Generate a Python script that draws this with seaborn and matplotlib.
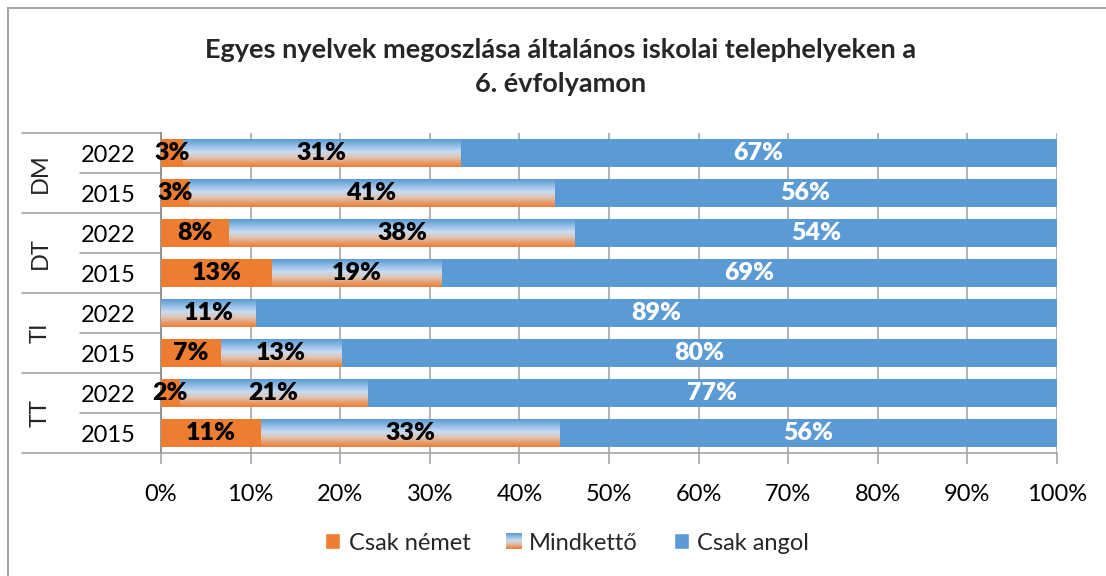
import numpy as np
import pandas as pd
import seaborn as sns
import matplotlib.pyplot as plt
from matplotlib.colors import LinearSegmentedColormap
from matplotlib.patches import Patch, Rectangle
import matplotlib.transforms as mtransforms

# data (percent)
groups = ['DM', 'DM', 'DT', 'DT', 'TI', 'TI', 'TT', 'TT']
years = ['2022', '2015', '2022', '2015', '2022', '2015', '2022', '2015']
csak_nemet = [2.5, 3.1, 7.6, 12.4, 0.0, 6.7, 2.1, 11.2]
mindketto = [30.9, 40.8, 38.6, 18.9, 10.6, 13.4, 20.9, 33.3]
csak_angol = [66.6, 56.1, 53.8, 68.7, 89.4, 79.9, 77.0, 55.5]
nemet_lbl = ['3%', '3%', '8%', '13%', '', '7%', '2%', '11%']
mind_lbl = ['31%', '41%', '38%', '19%', '11%', '13%', '21%', '33%']
angol_lbl = ['67%', '56%', '54%', '69%', '89%', '80%', '77%', '56%']

ORANGE = '#ed7d31'
BLUE = '#5b9bd5'
FS = 17

df = pd.DataFrame({'row': [g + ' ' + y for g, y in zip(groups, years)],
                   'nemet': csak_nemet, 'mind': mindketto, 'angol': csak_angol})
df['c1'] = df['nemet']
df['c2'] = df['nemet'] + df['mind']
df['c3'] = df['c2'] + df['angol']

sns.set_theme(style='white')
plt.rcParams['font.family'] = ['Lato', 'DejaVu Sans']

fig = plt.figure(figsize=(11.06, 5.76), dpi=100)
ax = fig.add_axes([161 / 1106, 1 - 453 / 576, 896 / 1106, 320 / 576])

grad_cmap = LinearSegmentedColormap.from_list(
    'mk', [(0, '#5b9bd5'), (0.45, '#c6dcf3'), (0.62, '#dcc9c0'), (1, '#ed7d31')])
grad = np.linspace(0, 1, 64).reshape(-1, 1)

sns.barplot(data=df, x='c3', y='row', color=BLUE, width=0.68, saturation=1,
            orient='h', ax=ax, zorder=2, linewidth=0)
sns.barplot(data=df, x='c2', y='row', color=BLUE, width=0.68, saturation=1,
            orient='h', ax=ax, zorder=2, linewidth=0)
mind_patches = ax.patches[8:16]
sns.barplot(data=df, x='c1', y='row', color=ORANGE, width=0.68, saturation=1,
            orient='h', ax=ax, zorder=4, linewidth=0)

for p in mind_patches:
    x0, y0, w, h = p.get_x(), p.get_y(), p.get_width(), p.get_height()
    ax.imshow(grad, extent=[x0, x0 + w, y0 + h, y0], aspect='auto',
              cmap=grad_cmap, zorder=3, interpolation='bilinear')

ax.set_xlim(0, 100)
ax.set_ylim(7.5, -0.5)

# segment labels
for i in range(len(df)):
    n, m, a = csak_nemet[i], mindketto[i], csak_angol[i]
    if nemet_lbl[i]:
        ax.text(n / 2, i, nemet_lbl[i], ha='center', va='center', fontsize=18,
                fontweight='heavy', color='black', zorder=6)
    ax.text(n + m / 2, i, mind_lbl[i], ha='center', va='center', fontsize=18,
            fontweight='heavy', color='black', zorder=6)
    ax.text(n + m + a / 2, i, angol_lbl[i], ha='center', va='center', fontsize=18,
            fontweight='heavy', color='white', zorder=6)

# x axis
ax.set_xticks(np.arange(0, 101, 10))
ax.set_xticklabels([f'{v}%' for v in range(0, 101, 10)], fontsize=FS)
ax.xaxis.grid(True, color='#a6a6a6', linewidth=1.2, zorder=0)
ax.set_axisbelow(True)
ax.tick_params(axis='x', bottom=True, length=8, width=1.2, color='#a6a6a6',
               pad=14, labelcolor='black')
for s in ['top', 'right']:
    ax.spines[s].set_visible(False)
ax.spines['left'].set_color('#868686')
ax.spines['bottom'].set_color('#a6a6a6')
ax.spines['left'].set_linewidth(1.2)
ax.spines['bottom'].set_linewidth(1.2)
ax.set_xlabel('')
ax.set_ylabel('')

# y axis: years as tick labels, groups as text
ax.set_yticks(range(len(df)))
ax.set_yticklabels(years, fontsize=FS)
ax.tick_params(axis='y', left=False, pad=12, labelcolor='black')

trans = mtransforms.blended_transform_factory(ax.transAxes, ax.transData)
short_x = (80 - 161) / 896
long_x = (22 - 161) / 896
for yy in [0.5, 2.5, 4.5, 6.5]:
    ax.plot([short_x, 0], [yy, yy], transform=trans, color='#a6a6a6', lw=1.2,
            clip_on=False)
for yy in [-0.5, 1.5, 3.5, 5.5, 7.5]:
    ax.plot([long_x, 0], [yy, yy], transform=trans, color='#a6a6a6', lw=1.2,
            clip_on=False)
for k, g in enumerate(['DM', 'DT', 'TI', 'TT']):
    ax.text((40 - 161) / 896, 2 * k + 0.5, g, transform=trans, rotation=90,
            ha='center', va='center', fontsize=FS)

# title
fig.text(561 / 1106, 1 - 67 / 576, 'Egyes nyelvek megoszlása általános iskolai telephelyeken a\n6. évfolyamon',
         ha='center', va='center', fontsize=19.5, fontweight='bold', linespacing=1.45)

# legend
handles = [Patch(facecolor=ORANGE), Patch(facecolor=BLUE), Patch(facecolor=BLUE)]
leg = fig.legend(handles, ['Csak német', 'Mindkettő', 'Csak angol'],
                 loc='center', bbox_to_anchor=(567 / 1106, 1 - 543 / 576), ncol=3,
                 frameon=False, fontsize=FS, handlelength=0.65, handleheight=0.65,
                 handletextpad=0.35, columnspacing=1.5)

# chart border
fig.patches.append(Rectangle((8 / 1106, -0.1), 1.2, 1 - 8 / 576 + 0.1,
                             transform=fig.transFigure, fill=False,
                             edgecolor='#a6a6a6', linewidth=1.5))

# gradient for the Mindkettő legend key
fig.canvas.draw()
bb = leg.legend_handles[1].get_window_extent().transformed(fig.transFigure.inverted())
lax = fig.add_axes([bb.x0, bb.y0, bb.width, bb.height])
lax.imshow(grad, aspect='auto', cmap=grad_cmap, interpolation='bilinear')
lax.set_axis_off()
lax.set_zorder(10)

fig.savefig('out.png', dpi=100)
